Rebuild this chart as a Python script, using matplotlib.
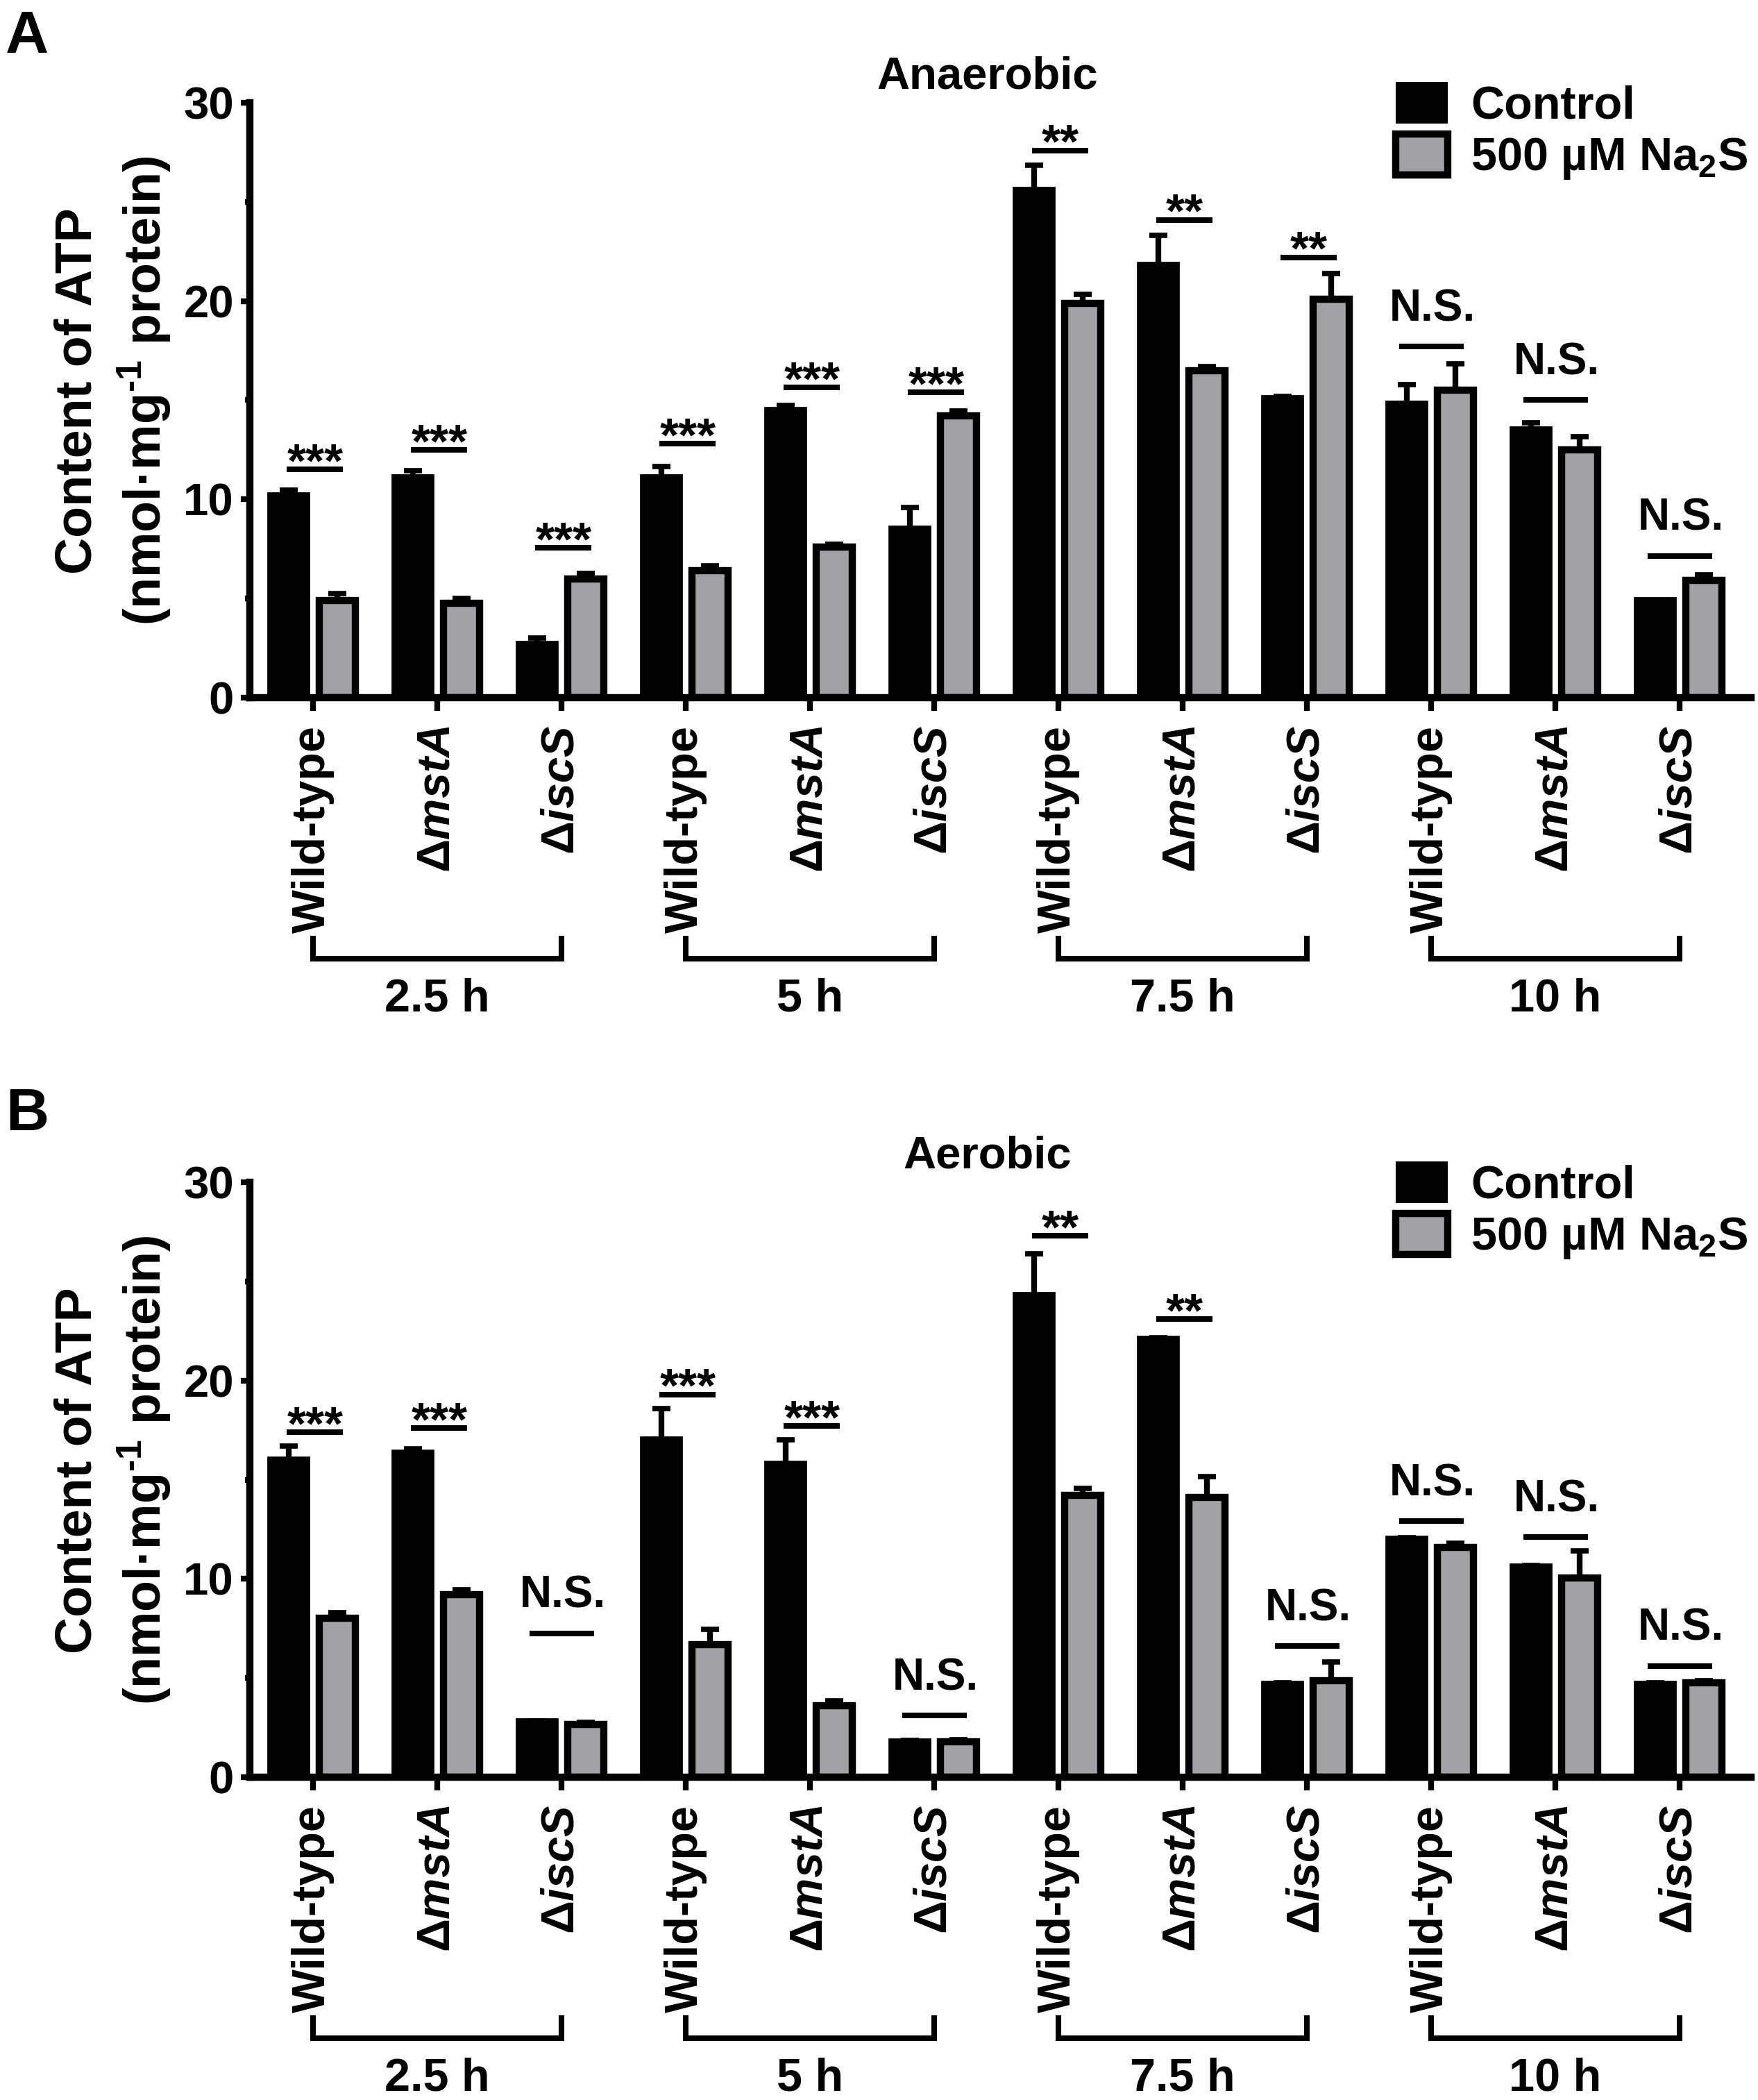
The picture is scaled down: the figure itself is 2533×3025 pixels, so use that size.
import numpy as np
import matplotlib.pyplot as plt
from matplotlib.patches import Patch
from matplotlib.transforms import blended_transform_factory

plt.rcParams['font.family'] = ['Liberation Sans', 'DejaVu Sans']
plt.rcParams['font.weight'] = 'bold'
plt.rcParams['mathtext.fontset'] = 'custom'
plt.rcParams['mathtext.rm'] = 'Liberation Sans:bold'
plt.rcParams['mathtext.it'] = 'Liberation Sans:italic:bold'
plt.rcParams['mathtext.bf'] = 'Liberation Sans:bold'

# categories
strains = ['Wild-type', 'Δ$\\mathit{mstA}$', 'Δ$\\mathit{iscS}$']
times = ['2.5 h', '5 h', '7.5 h', '10 h']
tick_labels = strains * 4
series = ['Control', '500 µM Na$_{\\mathregular{2}}$S']

# panel A, anaerobic (mean and upper SD)
ana_ctrl = [10.2, 11.1, 2.7, 11.1, 14.5, 8.5, 25.6, 21.8, 15.1, 14.8, 13.5, 4.9]
ana_ctrl_err = [0.25, 0.35, 0.3, 0.55, 0.25, 1.1, 1.25, 1.5, 0.1, 1.0, 0.35, 0.0]
ana_na2s = [4.9, 4.75, 6.0, 6.4, 7.6, 14.2, 19.9, 16.5, 20.1, 15.5, 12.5, 5.9]
ana_na2s_err = [0.35, 0.25, 0.25, 0.25, 0.12, 0.25, 0.45, 0.2, 1.3, 1.35, 0.65, 0.3]
ana_sig = ['***'] * 6 + ['**'] * 3 + ['N.S.'] * 3
ana_sig_y = [11.5, 12.5, 7.55, 12.8, 15.65, 15.4, 27.6, 24.1, 22.2, 17.7, 15.0, 7.15]

# panel B, aerobic
aer_ctrl = [16.0, 16.35, 2.8, 17.0, 15.8, 1.8, 24.3, 22.1, 4.7, 12.0, 10.6, 4.7]
aer_ctrl_err = [0.7, 0.2, 0.05, 1.6, 1.2, 0.05, 2.1, 0.07, 0.05, 0.07, 0.07, 0.07]
aer_na2s = [8.0, 9.2, 2.65, 6.7, 3.6, 1.8, 14.2, 14.1, 4.85, 11.6, 10.05, 4.75]
aer_na2s_err = [0.3, 0.25, 0.1, 0.75, 0.25, 0.1, 0.35, 1.05, 0.95, 0.2, 1.35, 0.1]
aer_sig = ['***', '***', 'N.S.', '***', '***', 'N.S.', '**', '**', 'N.S.', 'N.S.', 'N.S.', 'N.S.']
aer_sig_y = [17.4, 17.6, 7.25, 19.3, 17.7, 3.1, 27.3, 23.1, 6.6, 12.9, 12.1, 5.6]

GREY = '#a2a2a6'
W, H = 2533, 3025
fig = plt.figure(figsize=(W / 100, H / 100), dpi=100)


def draw_panel(ax, ctrl, ctrl_err, na2s, na2s_err, sig, sig_y, title, dy):
    x = np.arange(len(ctrl))
    off, w = 0.195, 0.29
    ax.bar(x - off, ctrl, width=w, color='black', edgecolor='black', linewidth=7)
    ax.bar(x + off, na2s, width=w, color=GREY, edgecolor='black', linewidth=7.5)
    zeros = np.zeros(len(x))
    ax.errorbar(x - off, ctrl, yerr=[zeros, ctrl_err], fmt='none', ecolor='black',
                elinewidth=6, capsize=9.5, capthick=5.5)
    ax.errorbar(x + off, na2s, yerr=[zeros, na2s_err], fmt='none', ecolor='black',
                elinewidth=6, capsize=9.5, capthick=5.5)

    # significance bars
    for xi, s, yy in zip(x, sig, sig_y):
        if s == 'N.S.':
            ax.plot([xi - 0.26, xi + 0.26], [yy, yy], color='black', lw=5.8,
                    solid_capstyle='butt', clip_on=False)
            ax.text(xi + 0.01, yy + 1.3, s, ha='center', va='baseline',
                    fontsize=46, clip_on=False)
        else:
            ax.plot([xi - 0.215, xi + 0.24], [yy, yy], color='black', lw=5.8,
                    solid_capstyle='butt', clip_on=False)
            ax.text(xi + 0.015, yy - 0.35, s, ha='center', va='baseline',
                    fontsize=50, clip_on=False)

    ax.set_xlim(-0.51, 11.575)
    ax.set_ylim(0, 30)
    ax.set_yticks([0, 10, 20, 30])
    ax.set_yticks([5, 15, 25], minor=True)
    ax.set_xticks(x)
    ax.set_xticklabels(tick_labels, rotation=90, va='top', ha='center', fontsize=48)
    for lab in ax.get_yticklabels():
        lab.set_fontsize(47)
    ax.spines['top'].set_visible(False)
    ax.spines['right'].set_visible(False)
    ax.spines['left'].set_linewidth(7.5)
    ax.spines['bottom'].set_linewidth(7.5)
    ax.tick_params(axis='y', which='major', length=9.7, width=6, pad=7)
    ax.tick_params(axis='y', which='minor', length=5, width=6)
    ax.tick_params(axis='x', which='major', length=13.7, width=6, pad=15)

    # time brackets under the strain labels
    trans = blended_transform_factory(ax.transData, ax.transAxes)
    for g, t in enumerate(times):
        x0, x1 = 3 * g, 3 * g + 2
        ax.plot([x0, x0, x1, x1], [-0.405, -0.439, -0.439, -0.405], transform=trans,
                color='black', lw=5.8, clip_on=False, solid_joinstyle='miter')
        ax.text(3 * g + 1, -0.527, t, transform=trans, ha='center', va='baseline',
                fontsize=48)

    ax.text(5.43, 1.0245, title, transform=trans, ha='center', va='baseline', fontsize=47)

    handles = [Patch(facecolor='black', edgecolor='black', linewidth=0),
               Patch(facecolor=GREY, edgecolor='black', linewidth=7.5)]
    ax.legend(handles, series, loc='upper left',
              bbox_to_anchor=(2011 / W, 1 - (118 + dy) / H), bbox_transform=fig.transFigure,
              frameon=False, fontsize=48, handlelength=1.12, handleheight=1.0,
              handletextpad=0.5, labelspacing=0.12, borderpad=0, borderaxespad=0)

    # two-line y label
    yc = 1 - (563 + dy) / H
    fig.text(132 / W, yc, 'Content of ATP', rotation=90, rotation_mode='anchor',
             ha='center', va='baseline', fontsize=53)
    fig.text(232 / W, yc, '(nmol·mg$^{\\mathregular{‐1}}$ protein)', rotation=90,
             rotation_mode='anchor', ha='center', va='baseline', fontsize=53)


ax_left, ax_width = 360 / W, 2163 / W
ax_a = fig.add_axes([ax_left, 1 - 1005 / H, ax_width, 857 / H])
ax_b = fig.add_axes([ax_left, 1 - 2560 / H, ax_width, 857 / H])

draw_panel(ax_a, ana_ctrl, ana_ctrl_err, ana_na2s, ana_na2s_err, ana_sig, ana_sig_y,
           'Anaerobic', 0)
draw_panel(ax_b, aer_ctrl, aer_ctrl_err, aer_na2s, aer_na2s_err, aer_sig, aer_sig_y,
           'Aerobic', 1555)

fig.text(8 / W, 1 - 14 / H, 'A', ha='left', va='top', fontsize=62)
fig.text(8 / W, 1 - 1566 / H, 'B', ha='left', va='top', fontsize=62)

fig.savefig('out.png', dpi=100)
